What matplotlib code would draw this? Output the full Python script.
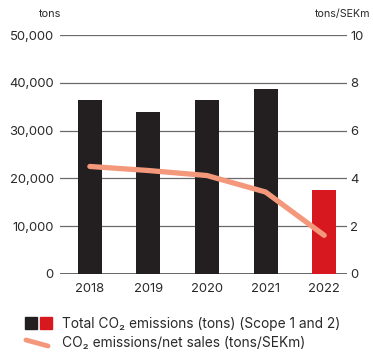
import matplotlib
matplotlib.use("Agg")
import matplotlib.pyplot as plt
from matplotlib.patches import Rectangle
from matplotlib.lines import Line2D

plt.rcParams['font.family'] = ['Inter', 'DejaVu Sans']

years = ["2018", "2019", "2020", "2021", "2022"]
emissions = [36500, 33800, 36300, 38800, 17500]
intensity = [4.5, 4.33, 4.12, 3.43, 1.62]
bar_colors = ["#231f20", "#231f20", "#231f20", "#231f20", "#d7191f"]
left_ticks = [0, 10000, 20000, 30000, 40000, 50000]
right_ticks = [0, 2, 4, 6, 8, 10]

W, H = 373, 355
fig = plt.figure(figsize=(W / 100, H / 100), dpi=100)
ax = fig.add_axes([60 / W, 81 / H, 287 / W, 239 / H])
ax2 = ax.twinx()

x = list(range(len(years)))
for t in left_ticks:
    ax.axhline(t, color="#3a3a3a" if t == 0 else "#6a6a6a", lw=1.1 if t == 0 else 0.9, zorder=0)
ax.bar(x, emissions, width=0.41, color=bar_colors, zorder=2)
ax2.plot(x, intensity, color="#f4987c", lw=3.8, solid_capstyle="round", zorder=3)

ax.set_xlim(-0.51, 4.39)
ax.set_ylim(0, 50000)
ax2.set_ylim(0, 10)
ax.set_xticks(x)
ax.set_xticklabels(years)
ax.set_yticks(left_ticks)
ax.set_yticklabels([f"{t:,}" for t in left_ticks])
ax2.set_yticks(right_ticks)
ax2.set_yticklabels([str(t) for t in right_ticks])
ax.tick_params(axis="both", length=0, labelsize=9.4, colors="#2a2a2a")
ax.tick_params(axis="y", pad=4.5)
ax.tick_params(axis="x", pad=6.5)
ax2.tick_params(axis="y", length=0, labelsize=9.4, colors="#2a2a2a", pad=2.5)
for a in (ax, ax2):
    for s in a.spines.values():
        s.set_visible(False)
ax2.patch.set_visible(False)

fig.text(50 / W, 1 - 14 / H, "tons", fontsize=7.9, ha="center", va="center", color="#2a2a2a")
fig.text(1 - 3 / W, 1 - 14 / H, "tons/SEKm", fontsize=7.7, ha="right", va="center", color="#2a2a2a")

# legend
fig.add_artist(Rectangle((25 / W, 1 - 329 / H), 12 / W, 12 / H, color="#231f20", transform=fig.transFigure))
fig.add_artist(Rectangle((40 / W, 1 - 329 / H), 12 / W, 12 / H, color="#d7191f", transform=fig.transFigure))
fig.text(62 / W, 1 - 324 / H, "Total CO₂ emissions (tons) (Scope 1 and 2)", fontsize=9.9,
         ha="left", va="center", color="#2a2a2a")
fig.add_artist(Line2D([26 / W, 48 / W], [1 - 340 / H, 1 - 346 / H], color="#f4987c", lw=3.5,
                      solid_capstyle="round", transform=fig.transFigure))
fig.text(62 / W, 1 - 343 / H, "CO₂ emissions/net sales (tons/SEKm)", fontsize=9.9,
         ha="left", va="center", color="#2a2a2a")

fig.savefig("out.png", dpi=100)
